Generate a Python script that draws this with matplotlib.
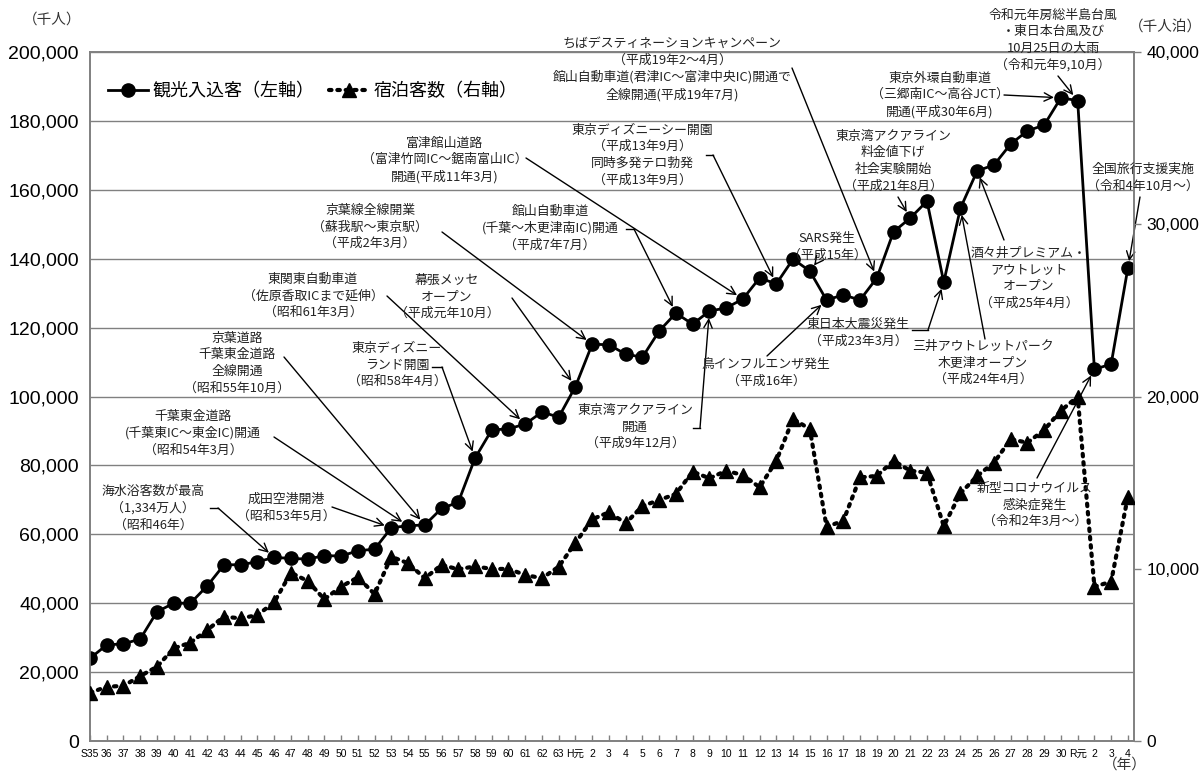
import matplotlib
matplotlib.use('Agg')
import matplotlib.pyplot as plt
from matplotlib.lines import Line2D
import numpy as np

plt.rcParams['font.family'] = ['Noto Sans CJK JP', 'DejaVu Sans']

# ---------------- data ----------------
labels = (['S35'] + [str(i) for i in range(36, 64)] +
          ['H元'] + [str(i) for i in range(2, 31)] +
          ['R元', '2', '3', '4'])

visitors = [24000, 27900, 28200, 29600, 37500, 40000, 40000, 45000, 51100, 51200,
            52000, 53300, 53000, 52800, 53800, 53700, 55200, 55700, 61900, 62500,
            62700, 67500, 69300, 82100, 90300, 90600, 92000, 95500, 94000,
            102900, 115200, 115000, 112300, 111400, 119000, 124200, 121000, 124800, 125700,
            128300, 134400, 132700, 139900, 136400, 128000, 129500, 128000, 134400, 147800,
            151800, 156700, 133200, 154700, 165500, 167200, 173300, 177100, 178800, 186700,
            185900, 107900, 109400, 137300]

overnight = [2800, 3150, 3200, 3770, 4310, 5380, 5710, 6440, 7220, 7120,
             7310, 8050, 9770, 9290, 8230, 8960, 9500, 8530, 10700, 10320,
             9450, 10220, 9970, 10140, 9990, 9990, 9640, 9450, 10120,
             11510, 12870, 13280, 12640, 13640, 13990, 14340, 15640, 15250, 15690,
             15440, 14730, 16270, 18700, 18110, 12440, 12780, 15300, 15390, 16270,
             15690, 15580, 12480, 14380, 15390, 16160, 17520, 17320, 18060, 19180,
             19990, 8960, 9250, 14190]

left_ticks = list(range(0, 200001, 20000))
right_ticks = list(range(0, 40001, 10000))

# ---------------- figure ----------------
W, H = 1200, 778
fig = plt.figure(figsize=(12, 7.78), dpi=100)
L, R, T, B = 90, 1134, 52, 741
ax = fig.add_axes([L / W, 1 - B / H, (R - L) / W, (B - T) / H])
ax2 = ax.twinx()

x = np.arange(len(labels))
step = 16.74
ax.set_xlim(0, (R - L) / step)
ax.set_ylim(0, 200000)
ax2.set_ylim(0, 40000)

for a in (ax, ax2):
    for s in a.spines.values():
        s.set_color('#808080')
        s.set_linewidth(1.2)

ax.set_yticks(left_ticks)
ax.set_yticklabels([f'{v:,}' for v in left_ticks], fontsize=14, family='Liberation Sans')
ax.tick_params(axis='y', length=0, pad=8)
ax.yaxis.grid(True, color='#808080', lw=1)
ax.set_axisbelow(True)

ax2.set_yticks(right_ticks)
ax2.set_yticklabels([f'{v:,}' for v in right_ticks], fontsize=12.5, family='Liberation Sans')
ax2.tick_params(axis='y', length=5, width=1, color='#808080', direction='out', pad=4)

ax.set_xticks(x)
ax.set_xticklabels(labels, fontsize=7.5, family=['Liberation Sans', 'Noto Sans CJK JP'])
ax.tick_params(axis='x', direction='in', length=4, width=1, color='#808080', pad=6)

l1, = ax.plot(x, visitors, color='black', lw=2, marker='o', ms=9.5, zorder=5)
l2, = ax2.plot(x, overnight, color='black', lw=3, ls=(0, (0.6, 1.4)),
               dash_capstyle='round', marker='^', ms=10, zorder=5)

leg = ax.legend([l1, l2], ['観光入込客（左軸）', '宿泊客数（右軸）'], loc='upper left',
                bbox_to_anchor=((92 - L) / (R - L), (B - 66) / (B - T)),
                frameon=False, ncol=2, fontsize=13, handlelength=2.2,
                columnspacing=0.8, handletextpad=0.25)

# axis unit labels
def fp(px, py):
    return (px / W, 1 - py / H)

fig.text(*fp(52, 20), '（千人）', fontsize=10.5, ha='center', va='center', color='#333')
fig.text(*fp(1165, 27), '（千人泊）', fontsize=10.5, ha='center', va='center', color='#333')
fig.text(*fp(1125, 765), '（年）', fontsize=10.5, ha='center', va='center', color='#333')

# ---------------- annotations ----------------
# text, centre (px), arrow start (px), optional elbow end (px), target index
notes = [
    ('海水浴客数が最高\n（1,334万人）\n（昭和46年）', (153, 508), (210, 508), (218, 508), 11),
    ('成田空港開港\n（昭和53年5月）', (286, 508), (332, 507), None, 18),
    ('千葉東金道路\n(千葉東IC～東金IC)開通\n（昭和54年3月）', (193, 433), (274, 437), None, 19),
    ('京葉道路\n千葉東金道路\n全線開通\n（昭和55年10月）', (237, 363), (284, 357), None, 20),
    ('東関東自動車道\n（佐原香取ICまで延伸）\n（昭和61年3月）', (313, 296), (387, 296), None, 26),
    ('東京ディズニー\nランド開園\n（昭和58年4月）', (397, 365), (432, 367), (442, 367), 23),
    ('京葉線全線開業\n（蘇我駅～東京駅）\n（平成2年3月）', (370, 227), (442, 232), None, 30),
    ('幕張メッセ\nオープン\n（平成元年10月）', (447, 297), (512, 298), None, 29),
    ('富津館山道路\n（富津竹岡IC～鋸南富山IC）\n開通(平成11年3月)', (445, 160), (526, 158), None, 39),
    ('館山自動車道\n(千葉～木更津南IC)開通\n（平成7年7月）', (550, 228), (626, 229), (634, 229), 35),
    ('東京ディズニーシー開園\n（平成13年9月）\n同時多発テロ勃発\n（平成13年9月）', (642, 155), (706, 155), (713, 155), 41),
    ('ちばデスティネーションキャンペーン\n（平成19年2～4月）\n館山自動車道(君津IC～富津中央IC)開通で\n全線開通(平成19年7月)',
     (672, 69), (792, 68), None, 47),
    ('SARS発生\n（平成15年）', (827, 247), (816, 263), None, 43),
    ('鳥インフルエンザ発生\n（平成16年）', (766, 373), (767, 356), None, 44),
    ('東京湾アクアライン\n開通\n（平成9年12月）', (635, 427), (693, 428), (700, 428), 37),
    ('東京湾アクアライン\n料金値下げ\n社会実験開始\n（平成21年8月）', (893, 161), (898, 197), None, 49),
    ('東京外環自動車道\n（三郷南IC～高谷JCT）\n開通(平成30年6月)', (940, 95), (1004, 95), None, 58),
    ('令和元年房総半島台風\n・東日本台風及び\n10月25日の大雨\n（令和元年9,10月）', (1053, 40), (1058, 76), None, 59),
    ('全国旅行支援実施\n（令和4年10月～）', (1143, 178), (1140, 197), None, 62),
    ('酒々井プレミアム・\nアウトレット\nオープン\n（平成25年4月）', (1029, 278), (1004, 240), None, 53),
    ('三井アウトレットパーク\n木更津オープン\n（平成24年4月）', (983, 363), (985, 339), None, 52),
    ('東日本大震災発生\n（平成23年3月）', (858, 333), (912, 330), (928, 330), 51),
    ('新型コロナウイルス\n感染症発生\n（令和2年3月～）', (1035, 505), (1037, 478), None, 60),
]

for text, c, start, elbow, idx in notes:
    fig.text(*fp(*c), text, fontsize=9.3, ha='center', va='center',
             color='#222', linespacing=1.36, zorder=6)
    s = start
    if elbow is not None:
        fig.add_artist(Line2D([start[0] / W, elbow[0] / W],
                              [1 - start[1] / H, 1 - elbow[1] / H],
                              transform=fig.transFigure, color='black', lw=1))
        s = elbow
    ax.annotate('', xy=(x[idx], visitors[idx]), xycoords='data',
                xytext=fp(*s), textcoords='figure fraction',
                arrowprops=dict(arrowstyle='->,head_length=0.6,head_width=0.3',
                                color='black', lw=1, shrinkA=0, shrinkB=5),
                zorder=7, annotation_clip=False)

fig.savefig('out.png', dpi=100)
